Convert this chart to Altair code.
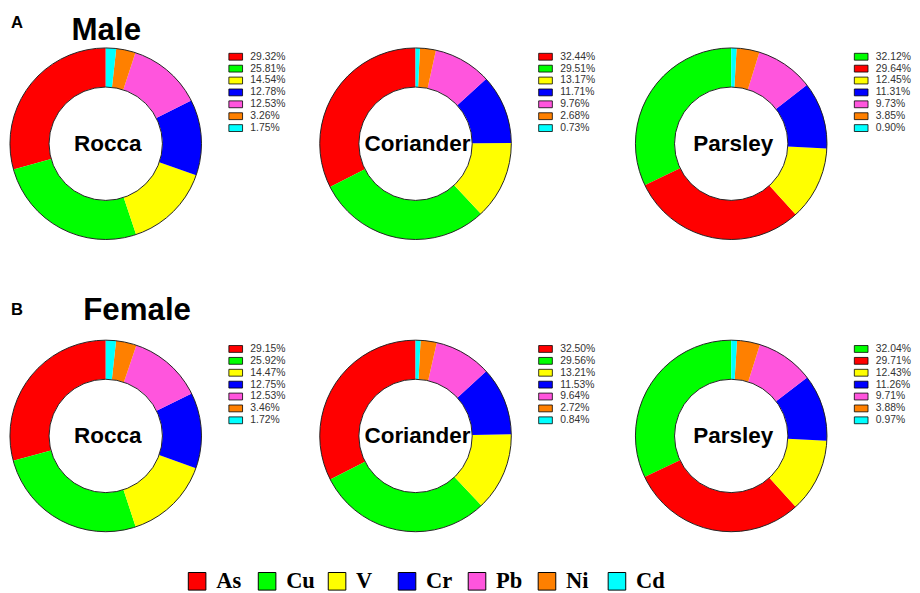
import altair as alt
import pandas as pd

elements = ["As", "Cu", "V", "Cr", "Pb", "Ni", "Cd"]
colors = ["#ff0000", "#00ff00", "#ffff00", "#0000ff", "#ff55dd", "#ff8000", "#00ffff"]

plants = ["Rocca", "Coriander", "Parsley"]

# values in element order As, Cu, V, Cr, Pb, Ni, Cd
male_rocca = [29.32, 25.81, 14.54, 12.78, 12.53, 3.26, 1.75]
male_coriander = [32.44, 29.51, 13.17, 11.71, 9.76, 2.68, 0.73]
male_parsley = [29.64, 32.12, 12.45, 11.31, 9.73, 3.85, 0.90]

female_rocca = [29.15, 25.92, 14.47, 12.75, 12.53, 3.46, 1.72]
female_coriander = [32.50, 29.56, 13.21, 11.53, 9.64, 2.72, 0.84]
female_parsley = [29.71, 32.04, 12.43, 11.26, 9.71, 3.88, 0.97]

group_letters = ["A", "B"]
group_names = ["Male", "Female"]

legend = alt.Legend(
    title=None, orient="none", legendX=179, legendY=567, direction="horizontal",
    symbolType="square", symbolSize=324, symbolStrokeColor="black",
    symbolStrokeWidth=1, symbolOpacity=1, labelFont="Liberation Serif",
    labelFontWeight="bold", labelFontSize=23, labelColor="black",
    labelOffset=8, columnPadding=10.6, gridAlign="all", padding=0,
)
color_enc = alt.Color("element:N", scale=alt.Scale(domain=elements, range=colors), legend=legend)

DONUT_W = 194
INNER, OUTER = 58, 98


def panel(name, values, legend_width):
    df = pd.DataFrame({"element": elements, "value": values})
    df = df.sort_values("value", ascending=False).reset_index(drop=True)
    df["rank"] = list(range(len(df)))
    df["label"] = [f"{v:.2f}%" for v in df["value"]]

    arcs = alt.Chart(df).mark_arc(innerRadius=INNER, outerRadius=OUTER).encode(
        theta=alt.Theta("value:Q", stack=True),
        order=alt.Order("value:Q", sort="ascending"),
        color=color_enc,
    )
    ring = alt.Chart(pd.DataFrame({"v": [1]})).mark_arc(
        innerRadius=INNER, outerRadius=OUTER, fillOpacity=0, stroke="#222222", strokeWidth=1
    ).encode(theta=alt.Theta("v:Q"))
    center = alt.Chart(pd.DataFrame({"name": [name]})).mark_text(
        font="Liberation Sans", fontWeight="bold", fontSize=23, color="black",
        align="center", baseline="middle", dx=2
    ).encode(text="name:N", x=alt.value(DONUT_W / 2), y=alt.value(100))
    donut = alt.layer(arcs, ring, center).resolve_scale(theta="independent").properties(
        width=DONUT_W, height=200
    )

    yenc = alt.Y("rank:O", axis=None, scale=alt.Scale(range=[11, 84], padding=0))
    sw = alt.Chart(df).mark_point(
        shape="M-2,-1H2V1H-2Z", size=49, filled=True, opacity=1,
        stroke="black", strokeWidth=0.8
    ).encode(x=alt.value(33), y=yenc, color=color_enc)
    tx = alt.Chart(df).mark_text(
        font="Liberation Sans", fontSize=10.6, color="#333333", align="left", baseline="middle"
    ).encode(x=alt.value(48), y=yenc, text="label:N")
    leg = alt.layer(sw, tx).properties(width=legend_width, height=200)
    return [donut, leg]


def heading(letter, name, height, letter_y, name_x, name_y):
    a = alt.Chart(pd.DataFrame({"t": [letter]})).mark_text(
        font="Liberation Sans", fontWeight="bold", fontSize=17, color="black",
        align="left", baseline="top"
    ).encode(text="t:N", x=alt.value(0), y=alt.value(letter_y))
    b = alt.Chart(pd.DataFrame({"t": [name]})).mark_text(
        font="Liberation Sans", fontWeight="bold", fontSize=32, color="black",
        align="left", baseline="top"
    ).encode(text="t:N", x=alt.value(name_x), y=alt.value(name_y))
    return alt.layer(a, b).properties(width=900, height=height)


legend_widths = [117, 123, 85]

row_a = alt.hconcat(
    *panel(plants[0], male_rocca, legend_widths[0]),
    *panel(plants[1], male_coriander, legend_widths[1]),
    *panel(plants[2], male_parsley, legend_widths[2]),
    spacing=0,
)
row_b = alt.hconcat(
    *panel(plants[0], female_rocca, legend_widths[0]),
    *panel(plants[1], female_coriander, legend_widths[1]),
    *panel(plants[2], female_parsley, legend_widths[2]),
    spacing=0,
)

head_a = heading(group_letters[0], group_names[0], 30, 0, 62, 0)
head_b = heading(group_letters[1], group_names[1], 99, 62, 74, 55)

chart = alt.vconcat(head_a, row_a, head_b, row_b, spacing=0).properties(
    padding=0, background="white"
).configure_view(stroke=None).configure_concat(spacing=0)

chart.save("out.html", embed_options={"renderer": "svg", "actions": False})
